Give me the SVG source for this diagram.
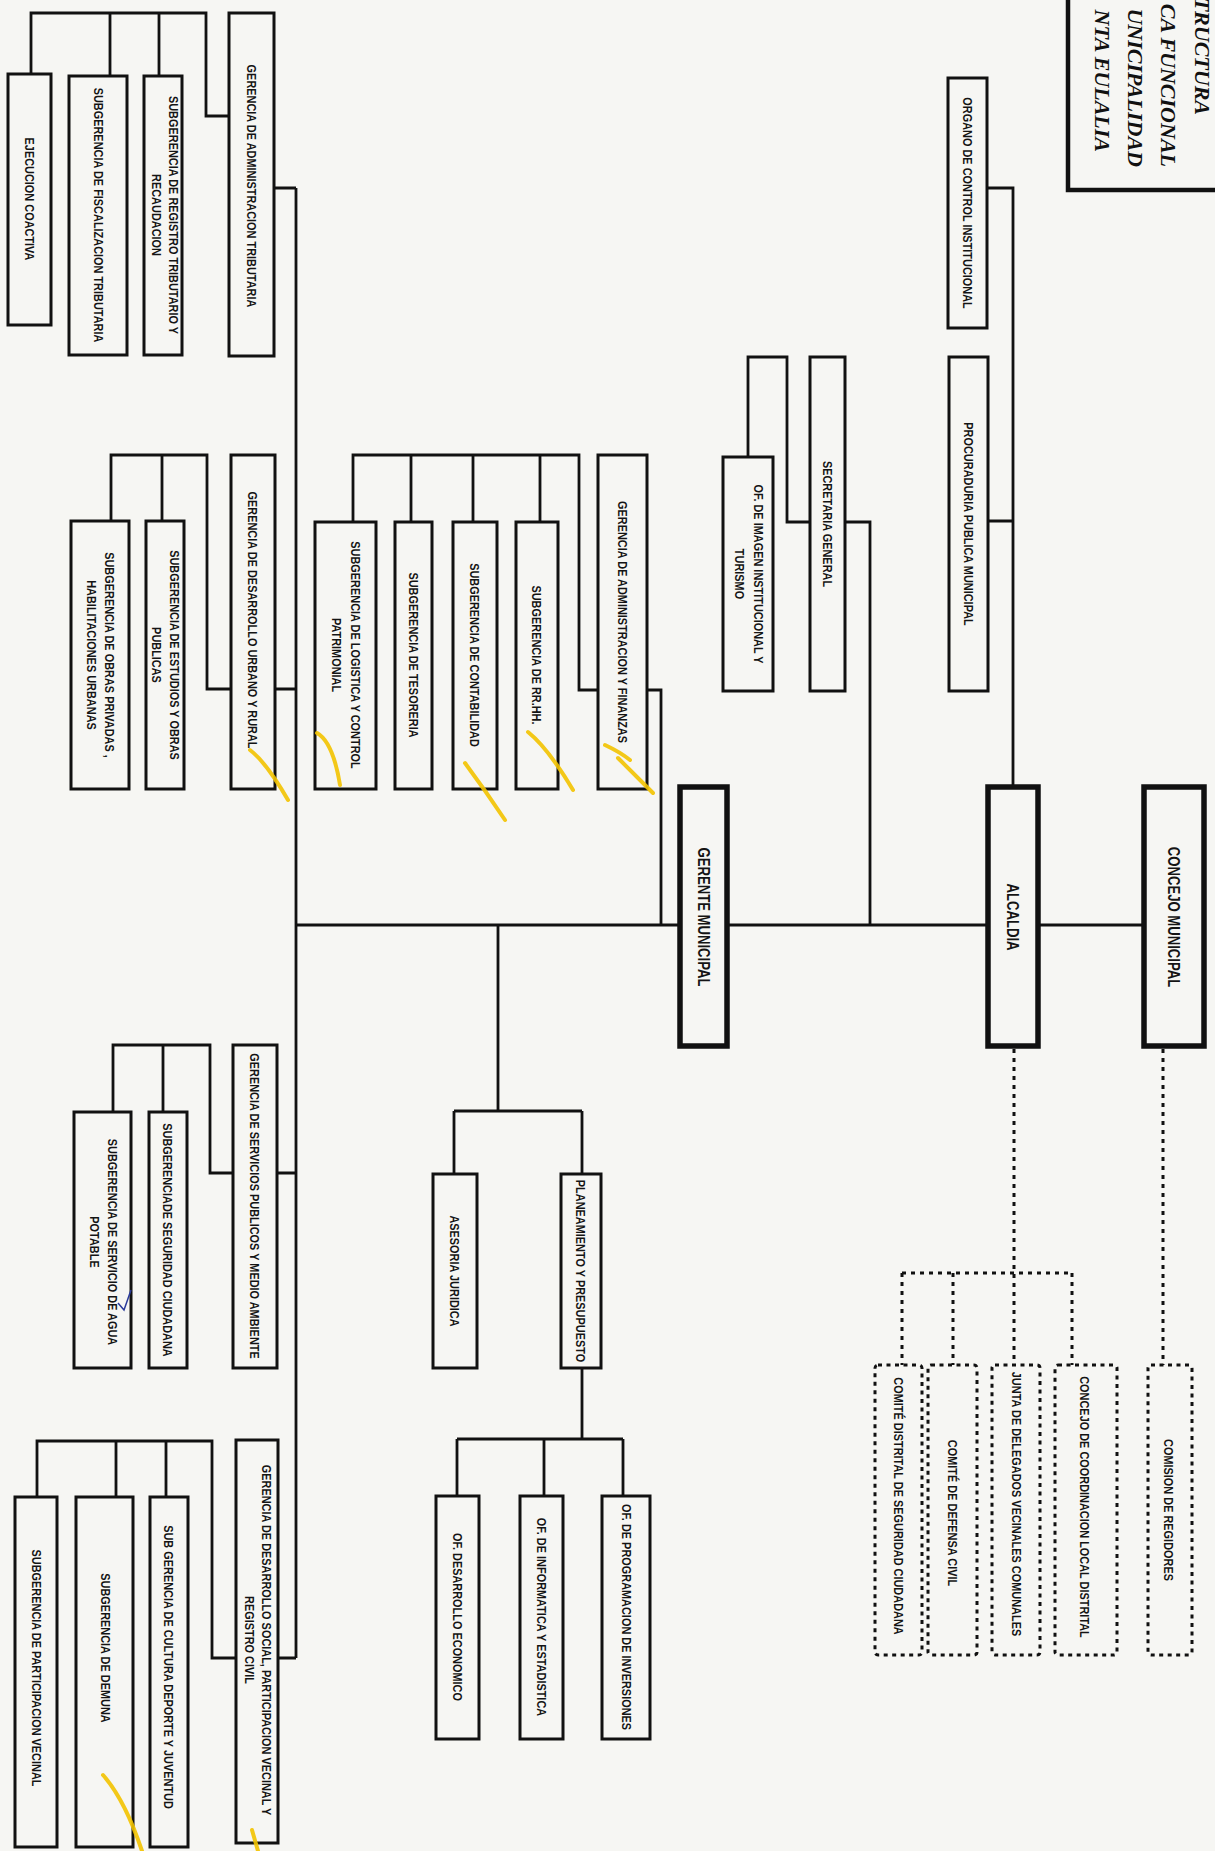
<svg xmlns="http://www.w3.org/2000/svg" width="1215" height="1851" viewBox="0 0 1215 1851">
<style>
.bg{fill:#f6f6f3}
.box{fill:#f6f6f3;stroke:#111;stroke-width:3}
.main{fill:#f6f6f3;stroke:#111;stroke-width:5.5}
.dbox{fill:#f6f6f3;stroke:#111;stroke-width:3;stroke-dasharray:4 4.5}
.ln{fill:none;stroke:#111;stroke-width:2.8}
.dln{fill:none;stroke:#111;stroke-width:3;stroke-dasharray:4 5}
.t{font-family:"Liberation Sans",Arial,sans-serif;font-size:13px;font-weight:bold;text-anchor:middle;fill:#141414}
.tm{font-family:"Liberation Sans",Arial,sans-serif;font-size:16px;font-weight:bold;text-anchor:middle;fill:#141414}
.title{font-family:"Liberation Serif","Times New Roman",serif;font-size:22px;font-weight:bold;font-style:italic;text-anchor:end;fill:#111}
.hl{fill:none;stroke:#f3c300;stroke-width:4;stroke-linecap:round;opacity:.9}
</style>
<rect class="bg" x="0" y="0" width="1215" height="1851"/>

<g id="connectors">
  <!-- main horizontal -->
  <path class="ln" d="M296,925 H1144"/>
  <!-- spine -->
  <path class="ln" d="M296,188 V1658"/>
  <path class="ln" d="M274,188 H296 M275,689 H296 M277,1173 H296 M278,1658 H296"/>
  <!-- alcaldia up -->
  <path class="ln" d="M1013,787 V188 H987 M988,521 H1013"/>
  <!-- secretaria -->
  <path class="ln" d="M870,925 V522 H845 M810,522 H787 V357 H748 V457"/>
  <!-- GAF -->
  <path class="ln" d="M647,690 H661 V925 M598,690 H579 V455 H353 V522 M540,455 V522 M473,455 V522 M411,455 V522"/>
  <!-- GAT -->
  <path class="ln" d="M229,116 H206 V13 H31 V74 M159,13 V76 M110,13 V76"/>
  <!-- GDU -->
  <path class="ln" d="M231,689 H207 V455 H111 V521 M162,455 V521"/>
  <!-- asesoria / planeamiento -->
  <path class="ln" d="M498,925 V1111 M454,1111 H582 M454,1111 V1174 M582,1111 V1174"/>
  <path class="ln" d="M582,1368 V1439 M457,1439 H623 M457,1439 V1496 M544,1439 V1496 M623,1439 V1496"/>
  <!-- GSPMA -->
  <path class="ln" d="M233,1173 H210 V1045 H113 V1112 M163,1045 V1112"/>
  <!-- GDS -->
  <path class="ln" d="M236,1658 H212 V1441 H37 V1497 M166,1441 V1497 M116,1441 V1497"/>
  <!-- dashed -->
  <path class="dln" d="M1014,1049 V1365 M902,1273 H1072 M902,1273 V1365 M953,1273 V1365 M1072,1273 V1365"/>
  <path class="dln" d="M1163,1049 V1365"/>
</g>

<g id="title">
  <rect x="1068" y="-10" width="200" height="200" fill="#f6f6f3" stroke="#111" stroke-width="4.5"/>
  <text class="title" transform="translate(1195,115) rotate(90)">TRUCTURA</text>
  <text class="title" transform="translate(1161,167) rotate(90)">CA FUNCIONAL</text>
  <text class="title" transform="translate(1128,167) rotate(90)">UNICIPALIDAD</text>
  <text class="title" transform="translate(1095,152) rotate(90)">NTA EULALIA</text>
</g>

<g id="organo"><rect class="box" x="948" y="78" width="39" height="250"/>
<text class="t" transform="translate(967.5,203) rotate(90) scale(.84,1)" y="4.6">ORGANO DE CONTROL INSTITUCIONAL</text></g>
<g id="procuraduria"><rect class="box" x="949" y="357" width="39" height="334"/>
<text class="t" transform="translate(968.5,524) rotate(90) scale(.84,1)" y="4.6">PROCURADURIA PUBLICA MUNICIPAL</text></g>
<g id="secretaria"><rect class="box" x="810" y="357" width="35" height="334"/>
<text class="t" transform="translate(827.5,524) rotate(90) scale(.84,1)" y="4.6">SECRETARIA GENERAL</text></g>
<g id="imagen"><rect class="box" x="723" y="457" width="50" height="234"/>
<text class="t" transform="translate(759,574) rotate(90) scale(.84,1)" y="4.6">OF.  DE  IMAGEN INSTITUCIONAL Y</text>
<text class="t" transform="translate(740,574) rotate(90) scale(.84,1)" y="4.6">TURISMO</text></g>

<g id="gaf"><rect class="box" x="598" y="455" width="49" height="334"/>
<text class="t" transform="translate(622.5,622) rotate(90) scale(.84,1)" y="4.6">GERENCIA DE ADMINISTRACION Y FINANZAS</text></g>
<g id="rrhh"><rect class="box" x="516" y="522" width="42" height="267"/>
<text class="t" transform="translate(537,655) rotate(90) scale(.84,1)" y="4.6">SUBGERENCIA DE RR.HH.</text></g>
<g id="contabilidad"><rect class="box" x="453" y="522" width="44" height="267"/>
<text class="t" transform="translate(475,655) rotate(90) scale(.84,1)" y="4.6">SUBGERENCIA DE CONTABILIDAD</text></g>
<g id="tesoreria"><rect class="box" x="395" y="522" width="37" height="267"/>
<text class="t" transform="translate(413.5,655) rotate(90) scale(.84,1)" y="4.6">SUBGERENCIA DE TESORERIA</text></g>
<g id="logistica"><rect class="box" x="315" y="522" width="61" height="267"/>
<text class="t" transform="translate(356,655) rotate(90) scale(.84,1)" y="4.6">SUBGERENCIA DE LOGISTICA Y CONTROL</text>
<text class="t" transform="translate(337,655) rotate(90) scale(.84,1)" y="4.6">PATRIMONIAL</text></g>

<g id="gdu"><rect class="box" x="231" y="455" width="44" height="334"/>
<text class="t" transform="translate(253,620) rotate(90) scale(.84,1)" y="4.6">GERENCIA DE DESARROLLO URBANO Y RURAL</text></g>
<g id="estudios"><rect class="box" x="146" y="521" width="38" height="268"/>
<text class="t" transform="translate(175,655) rotate(90) scale(.84,1)" y="4.6">SUBGERENCIA DE ESTUDIOS  Y OBRAS</text>
<text class="t" transform="translate(157,655) rotate(90) scale(.84,1)" y="4.6">PUBLICAS</text></g>
<g id="obras-privadas"><rect class="box" x="71" y="521" width="58" height="268"/>
<text class="t" transform="translate(110,655) rotate(90) scale(.84,1)" y="4.6">SUBGERENCIA DE  OBRAS PRIVADAS ,</text>
<text class="t" transform="translate(92,655) rotate(90) scale(.84,1)" y="4.6">HABILITACIONES URBANAS</text></g>

<g id="gat"><rect class="box" x="229" y="13" width="45" height="343"/>
<text class="t" transform="translate(251.5,186) rotate(90) scale(.84,1)" y="4.6">GERENCIA DE ADMINISTRACION TRIBUTARIA</text></g>
<g id="registro"><rect class="box" x="144" y="76" width="38" height="279"/>
<text class="t" transform="translate(174,215) rotate(90) scale(.84,1)" y="4.6">SUBGERENCIA DE REGISTRO TRIBUTARIO Y</text>
<text class="t" transform="translate(157,215) rotate(90) scale(.84,1)" y="4.6">RECAUDACION</text></g>
<g id="fiscalizacion"><rect class="box" x="69" y="76" width="58" height="279"/>
<text class="t" transform="translate(99,215) rotate(90) scale(.84,1)" y="4.6">SUBGERENCIA DE  FISCALIZACION TRIBUTARIA</text></g>
<g id="ejecucion"><rect class="box" x="8" y="74" width="43" height="251"/>
<text class="t" transform="translate(29.5,199) rotate(90) scale(.84,1)" y="4.6">EJECUCION COACTIVA</text></g>

<g id="gerente"><rect class="main" x="680" y="787" width="47" height="259"/>
<text class="tm" transform="translate(703.5,917) rotate(90) scale(.82,1)" y="5.7">GERENTE MUNICIPAL</text></g>
<g id="alcaldia"><rect class="main" x="988" y="787" width="50" height="259"/>
<text class="tm" transform="translate(1013,917) rotate(90) scale(.82,1)" y="5.7">ALCALDIA</text></g>
<g id="concejo"><rect class="main" x="1144" y="787" width="60" height="259"/>
<text class="tm" transform="translate(1174,917) rotate(90) scale(.82,1)" y="5.7">CONCEJO MUNICIPAL</text></g>

<g id="asesoria"><rect class="box" x="433" y="1174" width="44" height="194"/>
<text class="t" transform="translate(455,1271) rotate(90) scale(.84,1)" y="4.6">ASESORIA JURIDICA</text></g>
<g id="planeamiento"><rect class="box" x="561" y="1174" width="40" height="194"/>
<text class="t" transform="translate(581,1271) rotate(90) scale(.84,1)" y="4.6">PLANEAMIENTO Y PRESUPUESTO</text></g>
<g id="desarrollo-economico"><rect class="box" x="436" y="1496" width="43" height="243"/>
<text class="t" transform="translate(457.5,1617) rotate(90) scale(.84,1)" y="4.6">OF.  DESARROLLO ECONOMICO</text></g>
<g id="informatica"><rect class="box" x="520" y="1496" width="43" height="243"/>
<text class="t" transform="translate(541.5,1617) rotate(90) scale(.84,1)" y="4.6">OF. DE INFORMATICA Y ESTADISTICA</text></g>
<g id="programacion"><rect class="box" x="602" y="1496" width="48" height="243"/>
<text class="t" transform="translate(626.5,1617) rotate(90) scale(.84,1)" y="4.6">OF. DE PROGRAMACION DE INVERSIONES</text></g>

<g id="gspma"><rect class="box" x="233" y="1045" width="44" height="323"/>
<text class="t" transform="translate(255,1206) rotate(90) scale(.84,1)" y="4.6">GERENCIA DE SERVICIOS PUBLICOS Y MEDIO AMBIENTE</text></g>
<g id="seguridad"><rect class="box" x="149" y="1112" width="38" height="256"/>
<text class="t" transform="translate(168,1240) rotate(90) scale(.84,1)" y="4.6">SUBGERENCIADE SEGURIDAD CIUDADANA</text></g>
<g id="agua"><rect class="box" x="74" y="1112" width="57" height="256"/>
<text class="t" transform="translate(113,1242) rotate(90) scale(.84,1)" y="4.6">SUBGERENCIA DE SERVICIO DE AGUA</text>
<text class="t" transform="translate(95,1242) rotate(90) scale(.84,1)" y="4.6">POTABLE</text></g>

<g id="gds"><rect class="box" x="236" y="1440" width="42" height="403"/>
<text class="t" transform="translate(267,1640) rotate(90) scale(.84,1)" y="4.6">GERENCIA DE  DESARROLLO  SOCIAL,  PARTICIPACION VECINAL Y</text>
<text class="t" transform="translate(250,1640) rotate(90) scale(.84,1)" y="4.6">REGISTRO CIVIL</text></g>
<g id="cultura"><rect class="box" x="150" y="1497" width="38" height="350"/>
<text class="t" transform="translate(169,1667) rotate(90) scale(.84,1)" y="4.6">SUB GERENCIA DE  CULTURA DEPORTE Y JUVENTUD</text></g>
<g id="demuna"><rect class="box" x="76" y="1497" width="57" height="350"/>
<text class="t" transform="translate(106,1648) rotate(90) scale(.84,1)" y="4.6">SUBGERENCIA DE DEMUNA</text></g>
<g id="participacion"><rect class="box" x="15" y="1497" width="42" height="350"/>
<text class="t" transform="translate(37,1668) rotate(90) scale(.84,1)" y="4.6">SUBGERENCIA DE PARTICIPACION VECINAL</text></g>

<g id="comite-seguridad"><rect class="dbox" x="875" y="1365" width="47" height="290" rx="3"/>
<text class="t" transform="translate(899,1506) rotate(90) scale(.84,1)" y="4.6">COMITÉ DISTRITAL DE SEGURIDAD CIUDADANA</text></g>
<g id="defensa-civil"><rect class="dbox" x="928" y="1365" width="49" height="290" rx="3"/>
<text class="t" transform="translate(953,1513) rotate(90) scale(.84,1)" y="4.6">COMITÉ DE DEFENSA CIVIL</text></g>
<g id="junta"><rect class="dbox" x="992" y="1365" width="48" height="290" rx="3"/>
<text class="t" transform="translate(1017,1504) rotate(90) scale(.84,1)" y="4.6">JUNTA DE DELEGADOS  VECINALES COMUNALES</text></g>
<g id="coordinacion"><rect class="dbox" x="1055" y="1365" width="62" height="290" rx="3"/>
<text class="t" transform="translate(1085,1507) rotate(90) scale(.84,1)" y="4.6">CONCEJO DE COORDINACION LOCAL DISTRITAL</text></g>
<g id="regidores"><rect class="dbox" x="1148" y="1365" width="44" height="290" rx="3"/>
<text class="t" transform="translate(1169,1510) rotate(90) scale(.84,1)" y="4.6">COMISION DE REGIDORES</text></g>

<g id="annotations">
  <path class="hl" d="M250,750 Q266,762 288,800"/>
  <path class="hl" d="M605,745 Q620,752 630,760 M618,758 L653,793"/>
  <path class="hl" d="M528,732 Q548,748 573,790"/>
  <path class="hl" d="M465,763 Q485,790 505,820"/>
  <path class="hl" d="M317,733 Q333,742 340,785"/>
  <path class="hl" d="M103,1775 Q125,1800 142,1851"/>
  <path class="hl" d="M252,1830 L258,1851"/>
  <path d="M118,1303 L124,1310 L131,1290" fill="none" stroke="#2a3a9a" stroke-width="1.5"/>
</g>
</svg>
